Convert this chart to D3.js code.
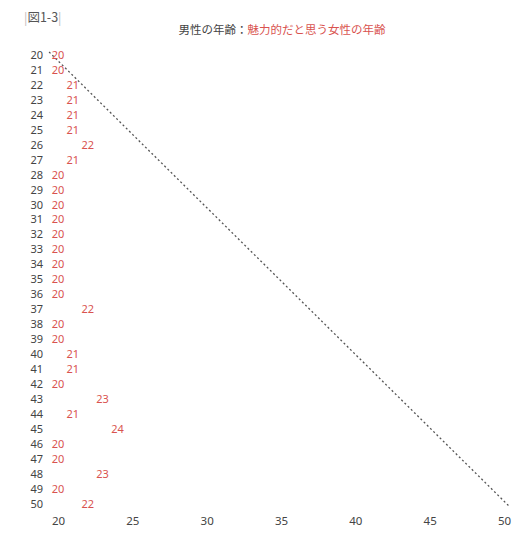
<!DOCTYPE html>
<html>
<head>
<meta charset="utf-8">
<script src="https://cdn.jsdelivr.net/npm/d3@7"></script>
<style>
  body { margin: 0; background: #fff; }
  text { font-family: "Noto Sans", "Noto Sans CJK JP", sans-serif; }
</style>
</head>
<body>
<div id="chart"></div>
<script>
// Data: man's age -> age of woman he finds attractive
const menAges = d3.range(20, 51);
const womenAges = [20, 20, 21, 21, 21, 21, 22, 21, 20, 20,
                   20, 20, 20, 20, 20, 20, 20, 22, 20, 20,
                   21, 21, 20, 23, 21, 24, 20, 20, 23, 20, 22];
const xTicks = [20, 25, 30, 35, 40, 45, 50];
const diagonal = [[19.4, 19.8], [50.4, 50.2]];

const RED = "#d9534f";
const GRAY = "#444";

const width = 530, height = 548;

const svg = d3.select("#chart").append("svg")
  .attr("width", width)
  .attr("height", height);

const x = d3.scaleLinear().domain([20, 50]).range([58, 504]);
const y = d3.scaleLinear().domain([20, 50]).range([55, 504]);

// Figure tag
const tag = svg.append("text")
  .attr("x", 24).attr("y", 22)
  .style("font-size", "12.5px")
  .style("font-family", "\"Noto Sans CJK JP\", sans-serif");
tag.append("tspan").style("fill", "#bbb").text("|");
tag.append("tspan").style("fill", "#555").text("図1-3");
tag.append("tspan").style("fill", "#bbb").text("|");

// Title
const title = svg.append("text")
  .attr("x", 282).attr("y", 34)
  .attr("text-anchor", "middle")
  .style("font-size", "11.5px")
  .style("font-family", "\"Noto Sans CJK JP\", sans-serif");
title.append("tspan").style("fill", GRAY).text("男性の年齢：");
title.append("tspan").style("fill", RED).text("魅力的だと思う女性の年齢");

// Diagonal reference line
svg.append("line")
  .attr("x1", x(diagonal[0][0])).attr("y1", y(diagonal[0][1]))
  .attr("x2", x(diagonal[1][0])).attr("y2", y(diagonal[1][1]))
  .attr("stroke", "#555")
  .attr("stroke-width", 1.3)
  .attr("stroke-dasharray", "2,2.5");

// Row labels (men's ages)
svg.selectAll(".row-label")
  .data(menAges)
  .enter().append("text")
  .attr("class", "row-label")
  .attr("x", 43)
  .attr("y", d => y(d))
  .attr("dy", "0.35em")
  .attr("text-anchor", "end")
  .style("font-size", "11px")
  .style("fill", GRAY)
  .text(d => d);

// Values (women's ages) placed on the x scale
svg.selectAll(".val")
  .data(menAges.map((m, i) => ({ man: m, woman: womenAges[i] })))
  .enter().append("text")
  .attr("class", "val")
  .attr("x", d => x(d.woman))
  .attr("y", d => y(d.man))
  .attr("dy", "0.35em")
  .attr("text-anchor", "middle")
  .style("font-size", "11px")
  .style("fill", RED)
  .text(d => d.woman);

// X axis
const xAxis = svg.append("g")
  .attr("transform", "translate(0,517)")
  .call(d3.axisBottom(x).tickValues(xTicks).tickSize(0).tickPadding(0));
xAxis.select(".domain").remove();
xAxis.selectAll("text")
  .attr("dy", "0.7em")
  .style("font-size", "11.5px")
  .style("fill", GRAY)
  .style("font-family", "\"Noto Sans\", sans-serif");
</script>
</body>
</html>
